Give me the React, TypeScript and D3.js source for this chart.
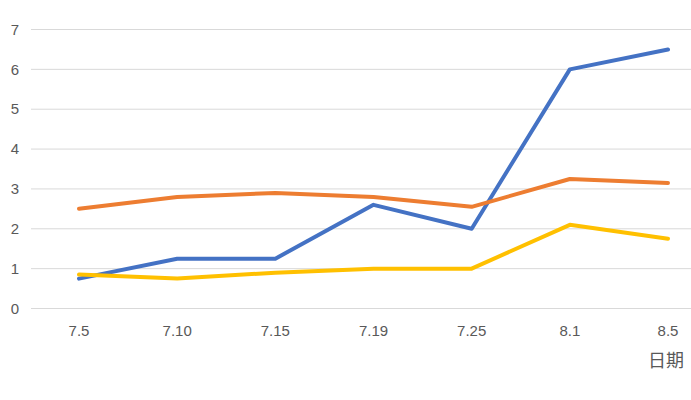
import React from "react";
import * as d3 from "d3";

const categories = ["7.5", "7.10", "7.15", "7.19", "7.25", "8.1", "8.5"];
const blueSeries = [0.75, 1.25, 1.25, 2.6, 2.0, 6.0, 6.5];
const orangeSeries = [2.5, 2.8, 2.9, 2.8, 2.55, 3.25, 3.15];
const yellowSeries = [0.85, 0.75, 0.9, 1.0, 1.0, 2.1, 1.75];
const yTicks = [0, 1, 2, 3, 4, 5, 6, 7];
const axisTitle = "日期";

const W = 691;
const H = 400;

export default function App() {
  const x = d3.scalePoint<string>().domain(categories).range([79, 668]);
  const y = d3.scaleLinear().domain([0, 7]).range([308.5, 29.5]);
  const line = d3
    .line<number>()
    .x((_, i) => x(categories[i]) as number)
    .y((d) => y(d));
  const series = [
    { data: blueSeries, color: "#4472C4" },
    { data: orangeSeries, color: "#ED7D31" },
    { data: yellowSeries, color: "#FFC000" },
  ];
  const font = "'Liberation Sans', 'Open Sans', sans-serif";
  return (
    <svg
      width={W}
      height={H}
      style={{ position: "absolute", left: 0, top: 0, background: "#fff" }}
    >
      {yTicks.map((t) => (
        <g key={t}>
          <line x1={31} x2={W} y1={y(t)} y2={y(t)} stroke="#d9d9d9" strokeWidth={1} />
          <text
            x={19}
            y={y(t)}
            dy="0.35em"
            textAnchor="end"
            fontSize={15}
            fill="#595959"
            fontFamily={font}
          >
            {t}
          </text>
        </g>
      ))}
      {categories.map((c) => (
        <text
          key={c}
          x={x(c)}
          y={336}
          textAnchor="middle"
          fontSize={15}
          fill="#595959"
          fontFamily={font}
        >
          {c}
        </text>
      ))}
      {series.map((s, i) => (
        <path
          key={i}
          d={line(s.data) || ""}
          fill="none"
          stroke={s.color}
          strokeWidth={4}
          strokeLinejoin="round"
          strokeLinecap="round"
        />
      ))}
      <text
        x={684}
        y={367}
        textAnchor="end"
        fontSize={18}
        fill="#595959"
        fontFamily="'Noto Sans CJK SC', sans-serif"
      >
        {axisTitle}
      </text>
    </svg>
  );
}
